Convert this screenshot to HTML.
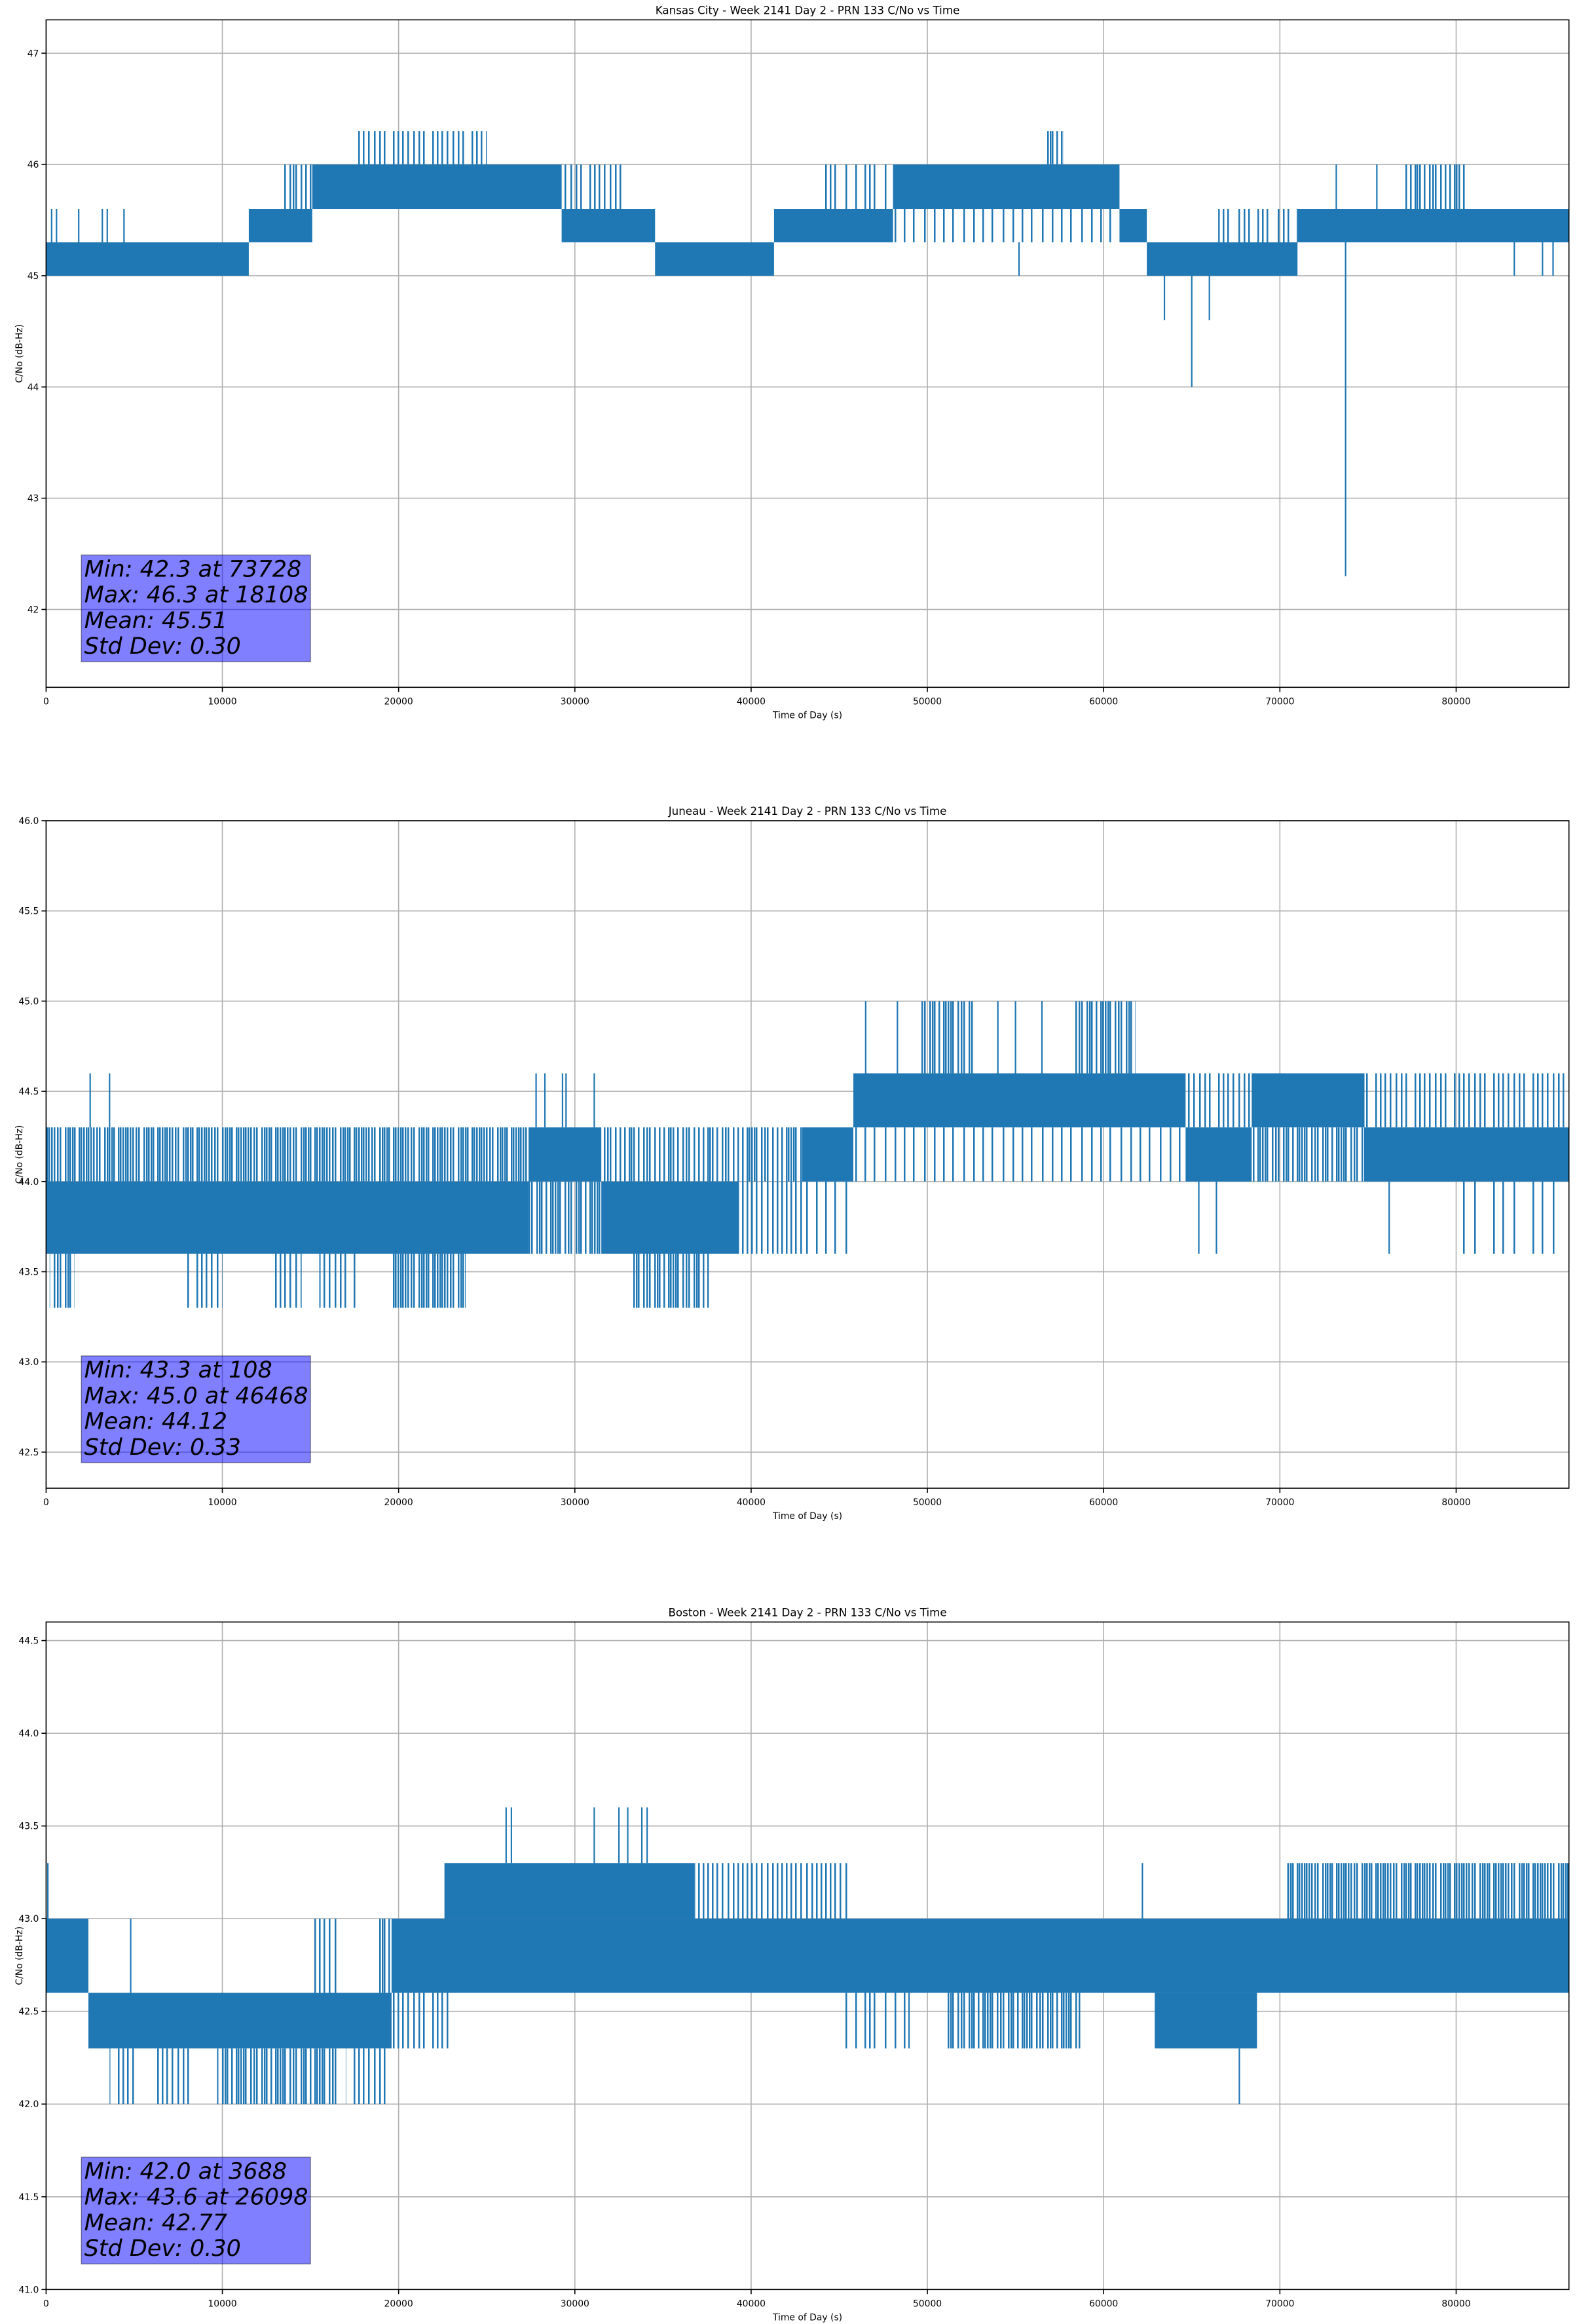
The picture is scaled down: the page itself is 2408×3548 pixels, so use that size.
<!DOCTYPE html>
<html><head><meta charset="utf-8"><style>
html,body{margin:0;padding:0;background:#fff;}
svg{display:block;font-family:"DejaVu Sans","Liberation Sans",sans-serif;}
</style></head><body>
<svg id="fig" width="2408" height="3548" viewBox="0 0 2408 3548" xmlns="http://www.w3.org/2000/svg"><defs id="defs"></defs></svg>
<script>
// ---- data (time in s, C/No in dB-Hz) ----
const titles = ["Kansas City - Week 2141 Day 2 - PRN 133 C/No vs Time","Juneau - Week 2141 Day 2 - PRN 133 C/No vs Time","Boston - Week 2141 Day 2 - PRN 133 C/No vs Time"];
const yLimits = [[41.3,47.3],[42.3,46.0],[41.0,44.6]];
const yTicks0 = [42,43,44,45,46,47];
const yTicks1 = [42.5,43.0,43.5,44.0,44.5,45.0,45.5,46.0];
const yTicks2 = [41.0,41.5,42.0,42.5,43.0,43.5,44.0,44.5];
const xTicks = [0,10000,20000,30000,40000,50000,60000,70000,80000];
const xMax = 86400;
// bands: [tStart, tEnd, low, high, density]
const bands0 = [[0,11500,45.0,45.3,1],[11500,15100,45.3,45.6,1],[13500,15100,45.6,46.0,0.4],[15100,29250,45.6,46.0,1],[17700,25000,46.0,46.3,0.3],[29250,34550,45.3,45.6,1],[29250,32900,45.6,46.0,0.3],[34550,41300,45.0,45.3,1],[41300,48050,45.3,45.6,1],[44000,48050,45.6,46.0,0.2],[48050,60900,45.6,46.0,1],[48050,60900,45.3,45.6,0.15],[56700,57700,46.0,46.3,0.5],[60900,62450,45.3,45.6,1],[62450,71000,45.0,45.3,1],[66500,71000,45.3,45.6,0.25],[71000,86400,45.3,45.6,1],[77000,80500,45.6,46.0,0.4]];
const spikes0 = [[313,45.3,45.6],[590,45.3,45.6],[1850,45.3,45.6],[3190,45.3,45.6],[3470,45.3,45.6],[4420,45.3,45.6],[55200,45.3,45.0],[63450,45.0,44.6],[65000,45.0,44.0],[66000,45.0,44.6],[73728,45.3,42.3],[73200,45.6,46.0],[75500,45.6,46.0],[83300,45.3,45.0],[84900,45.3,45.0],[85500,45.3,45.0]];
const bands1 = [[0,27400,43.6,44.0,1],[0,27400,44.0,44.3,0.6],[200,1600,43.3,43.6,0.5],[8000,10000,43.3,43.6,0.3],[12800,14500,43.3,43.6,0.3],[15500,17700,43.3,43.6,0.3],[19600,23800,43.3,43.6,0.6],[27400,31500,44.0,44.3,1],[27400,31500,43.6,44.0,0.5],[31500,39300,43.6,44.0,1],[31500,39300,44.0,44.3,0.4],[33300,37600,43.3,43.6,0.5],[39300,42900,43.6,44.0,0.35],[39300,42900,44.0,44.3,0.45],[42900,45800,44.0,44.3,1],[42900,45800,43.6,44.0,0.15],[45800,64650,44.3,44.6,1],[45800,64650,44.0,44.3,0.15],[49600,52600,44.6,45.0,0.5],[58200,61800,44.6,45.0,0.5],[64650,68400,44.0,44.3,1],[64650,68400,44.3,44.6,0.3],[68400,74800,44.3,44.6,0.9],[68400,74800,44.0,44.3,0.5],[74800,86400,44.0,44.3,1],[74800,86400,44.3,44.6,0.3],[80200,86000,43.6,44.0,0.12]];
const spikes1 = [[2500,44.3,44.6],[3600,44.3,44.6],[27800,44.3,44.6],[28300,44.3,44.6],[29300,44.3,44.6],[29500,44.3,44.6],[31100,44.3,44.6],[46500,44.6,45.0],[48300,44.6,45.0],[54000,44.6,45.0],[55000,44.6,45.0],[56500,44.6,45.0],[65400,44.0,43.6],[66400,44.0,43.6],[76200,44.0,43.6]];
const bands2 = [[0,2400,42.6,43.0,1],[2400,19600,42.3,42.6,1],[15000,16600,42.6,43.0,0.3],[18800,19600,42.6,43.0,0.5],[3600,5000,42.0,42.3,0.3],[6300,8400,42.0,42.3,0.3],[9700,16500,42.0,42.3,0.5],[17000,19400,42.0,42.3,0.3],[19600,86400,42.6,43.0,1],[19600,23000,42.3,42.6,0.3],[22600,36800,43.0,43.3,0.95],[36800,45600,43.0,43.3,0.35],[45000,49000,42.3,42.6,0.2],[51100,58700,42.3,42.6,0.5],[62900,68700,42.3,42.6,1],[70400,86400,43.0,43.3,0.6]];
const spikes2 = [[100,43.0,43.3],[4800,42.6,43.0],[26100,43.3,43.6],[26400,43.3,43.6],[31100,43.3,43.6],[32500,43.3,43.6],[33000,43.3,43.6],[33800,43.3,43.6],[34100,43.3,43.6],[62200,43.0,43.3],[67700,42.3,42.0]];
const stats = [["Min: 42.3 at 73728","Max: 46.3 at 18108","Mean: 45.51","Std Dev: 0.30"],["Min: 43.3 at 108","Max: 45.0 at 46468","Mean: 44.12","Std Dev: 0.33"],["Min: 42.0 at 3688","Max: 43.6 at 26098","Mean: 42.77","Std Dev: 0.30"]];

const allBands=[bands0,bands1,bands2], allSpikes=[spikes0,spikes1,spikes2], allTicks=[yTicks0,yTicks1,yTicks2];
const NS="http://www.w3.org/2000/svg";
const svg=document.getElementById('fig');
const defs=document.getElementById('defs');
const L=70.4,R=2395.7,H=1019,tops=[30.3,1253,2476.3];
const C="#1f77b4";
function mk(tag,attrs,parent){const e=document.createElementNS(NS,tag);for(const k in attrs)e.setAttribute(k,attrs[k]);(parent||svg).appendChild(e);return e;}
function fmtY(p,v){return p===0?String(v):v.toFixed(1);}
// irregular stripe texture for sparse regions
const stripeOrder=[0,31,14,46,7,39,22,53,3,27,11,43,18,50,35,57,25,9,41,5,48,16,33,1,37,20,55,12,29,44];
const patCache={};
function stripePattern(d){
  const n=Math.max(1,Math.round(d*60/2.5));
  const id='stripe'+n;
  if(!patCache[id]){
    const pt=mk('pattern',{id:id,patternUnits:'userSpaceOnUse',x:0,y:0,width:60,height:10},defs);
    for(let i=0;i<Math.min(n,stripeOrder.length);i++)mk('rect',{x:stripeOrder[i],y:0,width:2.5,height:10,fill:C},pt);
    patCache[id]=1;
  }
  return 'url(#'+id+')';
}

for(let p=0;p<3;p++){
  const top=tops[p],bot=top+H,[y0,y1]=yLimits[p];
  const X=t=>L+(t/xMax)*(R-L);
  const Y=v=>bot-(v-y0)/(y1-y0)*H;
  const g=mk('g',{});
  
  
  xTicks.forEach(t=>{const l=mk('line',{x1:X(t),x2:X(t),y1:top,y2:bot,stroke:'#b0b0b0','stroke-width':1.6},g);
    });
  allTicks[p].forEach(v=>{const l=mk('line',{x1:L,x2:R,y1:Y(v),y2:Y(v),stroke:'#b0b0b0','stroke-width':1.6},g);
    });
  const s=mk('g',{},g);
  
  
  allBands[p].forEach(b=>{const fill=b[4]>=0.9?C:stripePattern(b[4]);
    const r=mk('rect',{x:X(b[0]),y:Y(b[3]),width:Math.max(1,X(b[1])-X(b[0])),height:Y(b[2])-Y(b[3]),fill:fill},s);
    });
  allSpikes[p].forEach(k=>{const l=mk('line',{x1:X(k[0]),x2:X(k[0]),y1:Y(k[1]),y2:Y(k[2]),stroke:C,'stroke-width':2.2},s);
    });
  const f=mk('rect',{x:L,y:top,width:R-L,height:H,fill:'none',stroke:'#000','stroke-width':1.6},g);
  
  xTicks.forEach(t=>{mk('line',{x1:X(t),x2:X(t),y1:bot,y2:bot+7,stroke:'#000','stroke-width':1.6},g);
    const tx=mk('text',{x:X(t),y:bot+26,'font-size':13.9,'text-anchor':'middle',fill:'#000'},g);tx.textContent=t;
    });
  allTicks[p].forEach(v=>{mk('line',{x1:L-7,x2:L,y1:Y(v),y2:Y(v),stroke:'#000','stroke-width':1.6},g);
    const tx=mk('text',{x:L-11,y:Y(v)+5,'font-size':13.9,'text-anchor':'end',fill:'#000'},g);tx.textContent=fmtY(p,v);
    });
  const ti=mk('text',{x:(L+R)/2,y:top-9,'font-size':16.7,'text-anchor':'middle',fill:'#000'},g);ti.textContent=titles[p];
  
  const xl=mk('text',{x:(L+R)/2,y:bot+47,'font-size':13.9,'text-anchor':'middle',fill:'#000'},g);xl.textContent='Time of Day (s)';
  
  const yl=mk('text',{x:0,y:0,'font-size':13.9,'text-anchor':'middle',fill:'#000',transform:`translate(34,${top+H/2}) rotate(-90)`},g);yl.textContent='C/No (dB-Hz)';
  
  const bx=mk('rect',{x:X(2000),y:bot-202,width:X(15000)-X(2000),height:163,fill:'#0000ff','fill-opacity':0.5,stroke:'#000','stroke-opacity':0.4,'stroke-width':1.5},g);
  
  stats[p].forEach((line,i)=>{const tx=mk('text',{x:128.6,y:bot-169+i*39.3,'font-size':35,'font-style':'italic',fill:'#000'},g);tx.textContent=line;
    });
}
</script>
</body></html>
